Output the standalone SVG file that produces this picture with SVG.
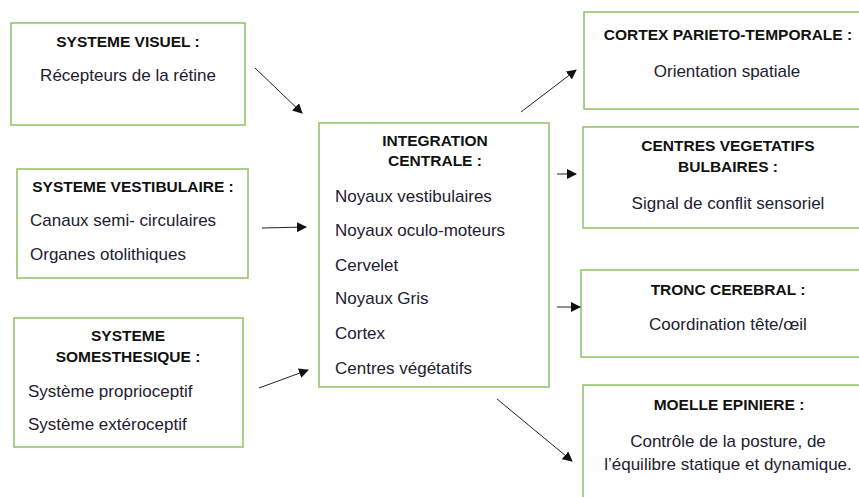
<svg xmlns="http://www.w3.org/2000/svg" width="859" height="497" viewBox="0 0 859 497">
<style>
.box{fill:#fff;stroke:#8fc066;stroke-width:1.5}
.t{font-family:"Liberation Sans",Arial,sans-serif;font-size:15.5px;font-weight:bold;fill:#111;text-anchor:middle}
.b{font-family:"Liberation Sans",Arial,sans-serif;font-size:17px;fill:#1e2030}
.c{text-anchor:middle}
.arr{stroke:#222;stroke-width:1;fill:none;marker-end:url(#ah)}
</style>
<defs>
<marker id="ah" viewBox="0 0 10 10" refX="9" refY="5" markerWidth="10" markerHeight="10" markerUnits="userSpaceOnUse" orient="auto">
<path d="M0,0 L10,5 L0,10 z" fill="#111"/>
</marker>
</defs>
<rect width="859" height="497" fill="#fff"/>
<g id="visuel">
<rect class="box" x="11" y="23" width="234" height="102"/>
<text class="t" x="128" y="47">SYSTEME VISUEL :</text>
<text class="b c" x="128" y="81">Récepteurs de la rétine</text>
</g>
<g id="vestibulaire">
<rect class="box" x="17" y="169" width="231" height="109"/>
<text class="t" x="133" y="192">SYSTEME VESTIBULAIRE :</text>
<text class="b" x="30" y="226">Canaux semi- circulaires</text>
<text class="b" x="30" y="260">Organes otolithiques</text>
</g>
<g id="somesthesique">
<rect class="box" x="14" y="318" width="229" height="129"/>
<text class="t" x="128" y="341">SYSTEME</text>
<text class="t" x="128" y="362">SOMESTHESIQUE :</text>
<text class="b" x="28" y="397">Système proprioceptif</text>
<text class="b" x="28" y="430">Système extéroceptif</text>
</g>
<g id="integration">
<rect class="box" x="319" y="123" width="230" height="264"/>
<text class="t" x="435" y="146">INTEGRATION</text>
<text class="t" x="435" y="166">CENTRALE :</text>
<text class="b" x="335" y="202">Noyaux vestibulaires</text>
<text class="b" x="335" y="236">Noyaux oculo-moteurs</text>
<text class="b" x="335" y="271">Cervelet</text>
<text class="b" x="335" y="304">Noyaux Gris</text>
<text class="b" x="335" y="339">Cortex</text>
<text class="b" x="335" y="374">Centres végétatifs</text>
</g>
<g id="cortex">
<rect class="box" x="584" y="12" width="280" height="97"/>
<text class="t" x="728" y="40">CORTEX PARIETO-TEMPORALE :</text>
<text class="b c" x="727" y="77">Orientation spatiale</text>
</g>
<g id="centres">
<rect class="box" x="583" y="127" width="281" height="101"/>
<text class="t" x="728" y="151">CENTRES VEGETATIFS</text>
<text class="t" x="728" y="172">BULBAIRES :</text>
<text class="b c" x="728" y="209">Signal de conflit sensoriel</text>
</g>
<g id="tronc">
<rect class="box" x="581" y="270" width="283" height="87"/>
<text class="t" x="728" y="295">TRONC CEREBRAL :</text>
<text class="b c" x="728" y="330">Coordination tête/œil</text>
</g>
<g id="moelle">
<rect class="box" x="583" y="385" width="281" height="120"/>
<text class="t" x="729" y="410">MOELLE EPINIERE :</text>
<text class="b c" x="728" y="447">Contrôle de la posture, de</text>
<text class="b c" x="728" y="470">l’équilibre statique et dynamique.</text>
</g>
<g id="connectors">
<line class="arr" x1="255" y1="68" x2="302" y2="113"/>
<line class="arr" x1="262" y1="228" x2="306" y2="227"/>
<line class="arr" x1="259" y1="388" x2="308" y2="370"/>
<line class="arr" x1="521" y1="112" x2="576" y2="70"/>
<line class="arr" x1="557" y1="174" x2="576" y2="174"/>
<line class="arr" x1="557" y1="307" x2="580" y2="307"/>
<line class="arr" x1="497" y1="399" x2="572" y2="461"/>
</g>
</svg>
